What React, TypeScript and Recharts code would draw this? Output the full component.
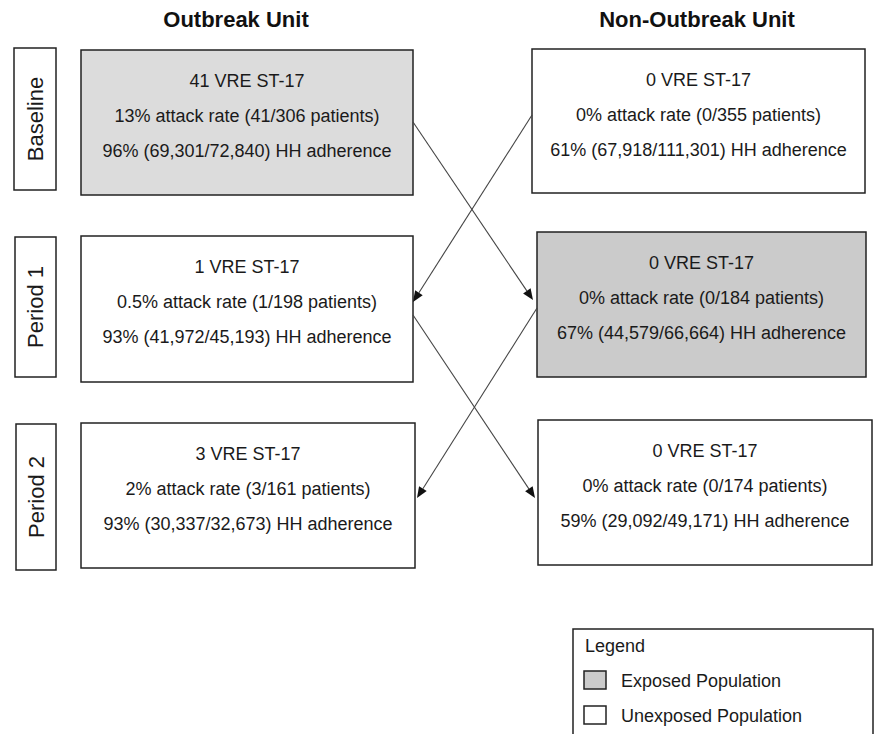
import React from "react";
import {
  ComposedChart,
  XAxis,
  YAxis,
  ReferenceArea,
  ReferenceLine,
  ReferenceDot,
} from "recharts";

const units = ["Outbreak Unit", "Non-Outbreak Unit"];
const periods = ["Baseline", "Period 1", "Period 2"];

// VRE ST-17 cases per period
const vreOutbreak = [41, 1, 3];
const vreNonOutbreak = [0, 0, 0];

// attack rate: percent text, cases / patients
const attackOutbreak = ["13%", "0.5%", "2%"];
const patientsOutbreak = [306, 198, 161];
const attackNonOutbreak = ["0%", "0%", "0%"];
const patientsNonOutbreak = [355, 184, 174];

// hand hygiene adherence
const hhPctOutbreak = ["96%", "93%", "93%"];
const hhNumOutbreak = [69301, 41972, 30337];
const hhDenOutbreak = [72840, 45193, 32673];
const hhPctNonOutbreak = ["61%", "67%", "59%"];
const hhNumNonOutbreak = [67918, 44579, 29092];
const hhDenNonOutbreak = [111301, 66664, 49171];

// which cell held the exposed population
const exposedOutbreak = [true, false, false];
const exposedNonOutbreak = [false, true, false];

const legendItems = ["Exposed Population", "Unexposed Population"];

// ---- layout (pixel coordinates of the page) ----
const W = 875;
const H = 734;
const FONT = '"Liberation Sans", Arial, Helvetica, sans-serif';
const INK = "#222";
const EXPOSED_FILL = ["#dcdcdc", "#cbcbcb"];
const titlePos = [
  { x: 236, y: 19 },
  { x: 697, y: 19 },
];
const periodBoxes = [
  [14, 56, 48, 190],
  [15, 56, 237, 377],
  [16, 56, 424, 570],
];
const outbreakBoxes = [
  [81, 413, 50, 195],
  [81, 413, 236, 382],
  [81, 415, 423, 568],
];
const nonOutbreakBoxes = [
  [532, 865, 49, 193],
  [537, 866, 232, 377],
  [538, 872, 420, 565],
];
const arrowSegs = [
  [413, 122, 533, 300],
  [532, 115, 413, 302],
  [413, 315, 535, 498],
  [537, 308, 417, 498],
];
const lineOffsets = [31, 66, 101];

const fmt = (n: number) => n.toLocaleString("en-US");

function cellLines(unit: number, i: number) {
  if (unit === 0) {
    return [
      `${vreOutbreak[i]} VRE ST-17`,
      `${attackOutbreak[i]} attack rate (${vreOutbreak[i]}/${patientsOutbreak[i]} patients)`,
      `${hhPctOutbreak[i]} (${fmt(hhNumOutbreak[i])}/${fmt(hhDenOutbreak[i])}) HH adherence`,
    ];
  }
  return [
    `${vreNonOutbreak[i]} VRE ST-17`,
    `${attackNonOutbreak[i]} attack rate (${vreNonOutbreak[i]}/${patientsNonOutbreak[i]} patients)`,
    `${hhPctNonOutbreak[i]} (${fmt(hhNumNonOutbreak[i])}/${fmt(hhDenNonOutbreak[i])}) HH adherence`,
  ];
}

function CellBox(props: any) {
  const { x, y, width, height, lines, fill } = props;
  return (
    <g>
      <rect x={x} y={y} width={width} height={height} fill={fill} stroke={INK} strokeWidth={1.5} />
      {lines.map((t: string, k: number) => (
        <text
          key={k}
          x={x + width / 2}
          y={y + lineOffsets[k]}
          textAnchor="middle"
          dominantBaseline="central"
          fontFamily={FONT}
          fontSize={18}
          fill="#1a1a1a"
        >
          {t}
        </text>
      ))}
    </g>
  );
}

function PeriodBox(props: any) {
  const { x, y, width, height, name } = props;
  const cx = x + width / 2;
  const cy = y + height / 2;
  return (
    <g>
      <rect x={x} y={y} width={width} height={height} fill="#fff" stroke={INK} strokeWidth={1.5} />
      <text
        x={cx}
        y={cy}
        transform={`rotate(-90, ${cx}, ${cy})`}
        textAnchor="middle"
        dominantBaseline="central"
        fontFamily={FONT}
        fontSize={22}
        fill="#1a1a1a"
      >
        {name}
      </text>
    </g>
  );
}

function Arrow(props: any) {
  const { x1, y1, x2, y2 } = props;
  const dx = x2 - x1;
  const dy = y2 - y1;
  const len = Math.sqrt(dx * dx + dy * dy);
  const ux = dx / len;
  const uy = dy / len;
  const hl = 11;
  const hw = 4.5;
  const bx = x2 - ux * hl;
  const by = y2 - uy * hl;
  const pts = `${x2},${y2} ${bx - uy * hw},${by + ux * hw} ${bx + uy * hw},${by - ux * hw}`;
  return (
    <g>
      <line x1={x1} y1={y1} x2={bx} y2={by} stroke="#444" strokeWidth={1.1} />
      <polygon points={pts} fill="#111" />
    </g>
  );
}

function Title(props: any) {
  const { cx, cy, name } = props;
  return (
    <text
      x={cx}
      y={cy}
      textAnchor="middle"
      dominantBaseline="central"
      fontFamily={FONT}
      fontWeight="bold"
      fontSize={22}
      fill="#111"
    >
      {name}
    </text>
  );
}

function LegendBox(props: any) {
  const { x, y, width, height } = props;
  return (
    <g>
      <rect x={x} y={y} width={width} height={height} fill="#fff" stroke={INK} strokeWidth={1.5} />
      <text x={x + 12} y={y + 17} dominantBaseline="central" fontFamily={FONT} fontSize={18} fill="#1a1a1a">
        Legend
      </text>
      {legendItems.map((t, k) => (
        <g key={t}>
          <rect
            x={x + 11}
            y={y + 42 + k * 35}
            width={22}
            height={18}
            fill={k === 0 ? EXPOSED_FILL[1] : "#fff"}
            stroke={INK}
            strokeWidth={1.5}
          />
          <text
            x={x + 48}
            y={y + 52 + k * 35}
            dominantBaseline="central"
            fontFamily={FONT}
            fontSize={18}
            fill="#1a1a1a"
          >
            {t}
          </text>
        </g>
      ))}
    </g>
  );
}

export default function App() {
  return (
    <div style={{ position: "absolute", left: 0, top: 0, width: W, height: H, background: "#fff" }}>
      <ComposedChart width={W} height={H} data={[]} margin={{ top: 0, right: 0, bottom: 0, left: 0 }}>
        <XAxis type="number" dataKey="x" domain={[0, W]} hide allowDataOverflow />
        <YAxis type="number" dataKey="y" domain={[0, H]} reversed hide allowDataOverflow />

        {units.map((u, k) => (
          <ReferenceDot
            key={u}
            x={titlePos[k].x}
            y={titlePos[k].y}
            r={0}
            ifOverflow="visible"
            shape={(p: any) => <Title {...p} name={u} />}
          />
        ))}

        {periods.map((p, i) => (
          <ReferenceArea
            key={p}
            x1={periodBoxes[i][0]}
            x2={periodBoxes[i][1]}
            y1={periodBoxes[i][2]}
            y2={periodBoxes[i][3]}
            ifOverflow="visible"
            shape={(s: any) => <PeriodBox {...s} name={p} />}
          />
        ))}

        {periods.map((p, i) => (
          <ReferenceArea
            key={"o" + p}
            x1={outbreakBoxes[i][0]}
            x2={outbreakBoxes[i][1]}
            y1={outbreakBoxes[i][2]}
            y2={outbreakBoxes[i][3]}
            ifOverflow="visible"
            shape={(s: any) => (
              <CellBox {...s} lines={cellLines(0, i)} fill={exposedOutbreak[i] ? EXPOSED_FILL[0] : "#fff"} />
            )}
          />
        ))}

        {periods.map((p, i) => (
          <ReferenceArea
            key={"n" + p}
            x1={nonOutbreakBoxes[i][0]}
            x2={nonOutbreakBoxes[i][1]}
            y1={nonOutbreakBoxes[i][2]}
            y2={nonOutbreakBoxes[i][3]}
            ifOverflow="visible"
            shape={(s: any) => (
              <CellBox {...s} lines={cellLines(1, i)} fill={exposedNonOutbreak[i] ? EXPOSED_FILL[1] : "#fff"} />
            )}
          />
        ))}

        {arrowSegs.map((a, k) => (
          <ReferenceLine
            key={"a" + k}
            segment={[
              { x: a[0], y: a[1] },
              { x: a[2], y: a[3] },
            ]}
            ifOverflow="visible"
            shape={(s: any) => <Arrow {...s} />}
          />
        ))}

        <ReferenceArea
          x1={573}
          x2={873}
          y1={629}
          y2={H + 10}
          ifOverflow="visible"
          shape={(s: any) => <LegendBox {...s} />}
        />
      </ComposedChart>
    </div>
  );
}
